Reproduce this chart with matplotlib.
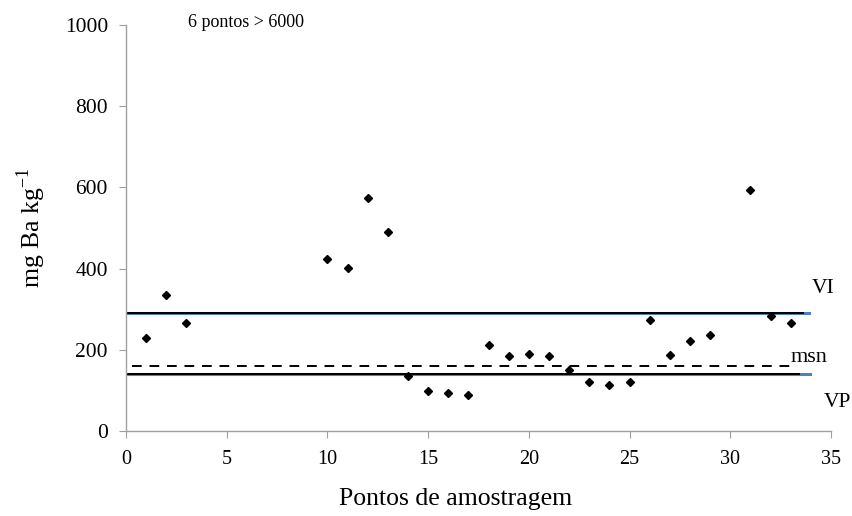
import numpy as np
import matplotlib.pyplot as plt

# sample points (4-9 and 30 are off-scale / absent)
pontos = [1, 2, 3, 10, 11, 12, 13, 14, 15, 16, 17, 18, 19, 20, 21, 22,
          23, 24, 25, 26, 27, 28, 29, 31, 32, 33]
ba = [229, 335, 266, 424, 401, 573, 490, 136, 98, 94, 89, 212, 185, 190,
      185, 150, 121, 113, 121, 273, 187, 222, 236, 594, 284, 267]

vi = 290   # valor de investigacao
vp = 140   # valor de prevencao
msn = 160  # media

plt.rcParams['font.family'] = ['Liberation Serif', 'DejaVu Serif']

fig = plt.figure(figsize=(8.53, 5.16), dpi=100)
ax = fig.add_axes([0.1477, 0.1647, 0.8265, 0.7869])

# reference lines (blue under black, like the original)
ax.plot([0, 33.9], [vi, vi], color='#4F81BD', lw=2.2, zorder=1)
ax.plot([0.1, 33.6], [vi, vi], color='black', lw=1.4, zorder=2)
ax.plot([0, 33.95], [vp, vp], color='#4F81BD', lw=2.2, zorder=1)
ax.plot([0.1, 33.4], [vp, vp], color='black', lw=1.4, zorder=2)
ax.plot([0.3, 33.1], [msn, msn], color='black', lw=1.4, ls=(0, (5, 4)), zorder=2)

ax.plot(pontos, ba, 'D', color='black', markersize=4.5, zorder=3)

ax.set_xlim(0, 35)
ax.set_ylim(0, 1000)
ax.set_xticks(np.arange(0, 36, 5))
ax.set_yticks(np.arange(0, 1001, 200))

for s in ['top', 'right']:
    ax.spines[s].set_visible(False)
for s in ['left', 'bottom']:
    ax.spines[s].set_color('#a0a0a0')
    ax.spines[s].set_linewidth(1.0)
ax.tick_params(axis='both', direction='out', length=5, color='#a0a0a0')
ax.tick_params(axis='y', labelsize=15.5, pad=8)
ax.tick_params(axis='x', labelsize=14.5, pad=9)

ax.set_ylabel('mg Ba kg$^{\\mathregular{-1}}$', fontsize=18.5, labelpad=12)
ax.set_xlabel('Pontos de amostragem', fontsize=18.5)
ax.xaxis.set_label_coords(0.468, -0.14)

ax.text(3.1, 1005, '6 pontos > 6000', fontsize=13, va='center', ha='left')
ax.text(34.6, 352, 'VI', fontsize=15.5, ha='center', va='center', clip_on=False)
ax.text(33.9, 182, 'msn', fontsize=16, ha='center', va='center', clip_on=False)
ax.text(35.3, 71, 'VP', fontsize=15.5, ha='center', va='center', clip_on=False)

plt.savefig('out.png', dpi=100)
